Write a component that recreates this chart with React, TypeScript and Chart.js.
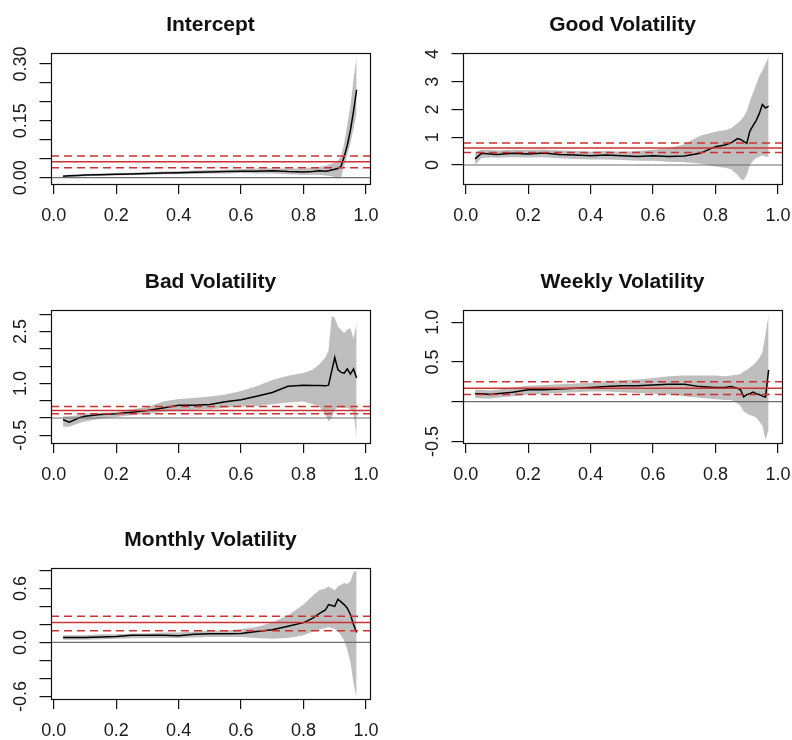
import React, { useEffect, useRef } from 'react';
import { Chart, registerables } from 'chart.js';

Chart.register(...registerables);

// ---------------- data ----------------
const taus = [0.03, 0.05, 0.08, 0.10, 0.15, 0.20, 0.25, 0.30, 0.35, 0.40, 0.45, 0.50, 0.55, 0.60, 0.65, 0.70, 0.75, 0.80, 0.83, 0.85, 0.87, 0.88, 0.89, 0.90, 0.91, 0.92, 0.93, 0.94, 0.95, 0.96, 0.97];

const xTicks = [0, 0.2, 0.4, 0.6, 0.8, 1.0];
const xTickLabels = ['0.0', '0.2', '0.4', '0.6', '0.8', '1.0'];
const xMin = -0.0087;
const xMax = 1.0128;

// Intercept
const interceptCoef = [0.004, 0.005, 0.006, 0.007, 0.008, 0.009, 0.010, 0.011, 0.012, 0.013, 0.014, 0.015, 0.016, 0.017, 0.017, 0.018, 0.016, 0.015, 0.016, 0.018, 0.017, 0.018, 0.020, 0.022, 0.024, 0.030, 0.055, 0.085, 0.125, 0.175, 0.232];
const interceptUpper = [0.007, 0.008, 0.009, 0.010, 0.011, 0.012, 0.013, 0.015, 0.016, 0.017, 0.019, 0.020, 0.021, 0.023, 0.024, 0.025, 0.024, 0.024, 0.026, 0.029, 0.031, 0.034, 0.037, 0.040, 0.045, 0.055, 0.090, 0.140, 0.190, 0.260, 0.320];
const interceptLower = [0.001, 0.002, 0.003, 0.004, 0.005, 0.006, 0.007, 0.008, 0.009, 0.009, 0.010, 0.011, 0.011, 0.012, 0.011, 0.011, 0.009, 0.008, 0.008, 0.008, 0.006, 0.005, 0.004, 0.002, -0.002, 0.000, 0.030, 0.060, 0.090, 0.130, 0.170];
const interceptOls = [0.042, 0.026, 0.057];
const interceptYTicks = [0, 0.05, 0.10, 0.15, 0.20, 0.25, 0.30];
const interceptYLabels = ['0.00', '', '', '0.15', '', '', '0.30'];

// Good Volatility
const goodCoef = [0.22, 0.42, 0.40, 0.38, 0.42, 0.40, 0.43, 0.38, 0.36, 0.33, 0.36, 0.33, 0.31, 0.33, 0.31, 0.32, 0.42, 0.66, 0.72, 0.80, 0.95, 0.92, 0.85, 0.78, 1.22, 1.42, 1.60, 1.85, 2.18, 2.05, 2.12];
const goodUpper = [0.45, 0.55, 0.55, 0.52, 0.55, 0.55, 0.56, 0.52, 0.50, 0.48, 0.50, 0.48, 0.50, 0.55, 0.60, 0.75, 1.05, 1.20, 1.25, 1.32, 1.50, 1.60, 1.75, 1.95, 2.30, 2.60, 2.90, 3.20, 3.40, 3.65, 3.90];
const goodLower = [0.00, 0.25, 0.27, 0.26, 0.28, 0.27, 0.28, 0.24, 0.22, 0.20, 0.20, 0.18, 0.15, 0.15, 0.12, 0.10, 0.05, -0.05, -0.10, -0.15, -0.35, -0.50, -0.55, -0.35, 0.00, 0.15, 0.25, 0.30, 0.35, 0.30, 0.30];
const goodOls = [0.61, 0.45, 0.79];
const goodYTicks = [0, 1, 2, 3, 4];
const goodYLabels = ['0', '1', '2', '3', '4'];

// Bad Volatility
const badCoef = [-0.05, -0.12, 0.00, 0.05, 0.10, 0.12, 0.17, 0.22, 0.29, 0.37, 0.37, 0.39, 0.47, 0.53, 0.63, 0.74, 0.92, 0.95, 0.94, 0.94, 0.93, 0.95, 1.35, 1.75, 1.40, 1.32, 1.30, 1.42, 1.27, 1.42, 1.16];
const badUpper = [0.05, 0.05, 0.08, 0.12, 0.15, 0.17, 0.25, 0.32, 0.48, 0.55, 0.58, 0.62, 0.68, 0.78, 0.92, 1.10, 1.22, 1.30, 1.40, 1.55, 1.75, 1.95, 2.95, 2.90, 2.65, 2.55, 2.45, 2.55, 2.60, 2.30, 2.75];
const badLower = [-0.25, -0.25, -0.15, -0.10, -0.02, 0.03, 0.08, 0.12, 0.18, 0.22, 0.24, 0.25, 0.30, 0.33, 0.35, 0.40, 0.45, 0.48, 0.40, 0.35, 0.10, -0.10, 0.00, 0.25, 0.30, 0.30, 0.28, 0.30, 0.25, 0.15, -0.55];
const badOls = [0.22, 0.12, 0.33];
const badYTicks = [-0.5, 0, 0.5, 1.0, 1.5, 2.0, 2.5, 3.0];
const badYLabels = ['-0.5', '', '', '1.0', '', '', '2.5', ''];

// Weekly Volatility
const weeklyCoef = [0.10, 0.10, 0.09, 0.10, 0.12, 0.15, 0.15, 0.16, 0.17, 0.18, 0.19, 0.20, 0.20, 0.21, 0.22, 0.22, 0.19, 0.18, 0.18, 0.19, 0.17, 0.15, 0.06, 0.09, 0.10, 0.12, 0.10, 0.09, 0.07, 0.06, 0.40];
const weeklyUpper = [0.15, 0.15, 0.14, 0.15, 0.18, 0.20, 0.21, 0.22, 0.23, 0.24, 0.26, 0.27, 0.28, 0.30, 0.32, 0.33, 0.33, 0.33, 0.32, 0.33, 0.34, 0.35, 0.38, 0.40, 0.43, 0.46, 0.50, 0.55, 0.62, 0.85, 1.10];
const weeklyLower = [0.05, 0.04, 0.04, 0.05, 0.07, 0.09, 0.10, 0.11, 0.12, 0.13, 0.13, 0.12, 0.11, 0.10, 0.09, 0.07, 0.05, 0.03, 0.02, 0.02, -0.02, -0.05, -0.12, -0.15, -0.17, -0.18, -0.20, -0.25, -0.30, -0.48, -0.35];
const weeklyOls = [0.17, 0.09, 0.25];
const weeklyYTicks = [-0.5, 0, 0.5, 1.0];
const weeklyYLabels = ['-0.5', '', '0.5', '1.0'];

// Monthly Volatility
const monthlyCoef = [0.055, 0.055, 0.055, 0.055, 0.06, 0.065, 0.08, 0.08, 0.08, 0.075, 0.09, 0.095, 0.095, 0.10, 0.12, 0.14, 0.18, 0.22, 0.27, 0.32, 0.36, 0.42, 0.41, 0.40, 0.48, 0.45, 0.42, 0.38, 0.31, 0.20, 0.11];
const monthlyUpper = [0.08, 0.08, 0.08, 0.08, 0.09, 0.09, 0.10, 0.10, 0.11, 0.11, 0.12, 0.13, 0.13, 0.15, 0.17, 0.22, 0.30, 0.42, 0.52, 0.58, 0.60, 0.62, 0.60, 0.58, 0.62, 0.64, 0.66, 0.65, 0.68, 0.78, 0.80];
const monthlyLower = [0.03, 0.03, 0.03, 0.03, 0.035, 0.04, 0.045, 0.05, 0.05, 0.05, 0.055, 0.06, 0.06, 0.06, 0.05, 0.04, 0.05, 0.08, 0.12, 0.14, 0.16, 0.17, 0.16, 0.15, 0.12, 0.08, 0.02, -0.08, -0.22, -0.45, -0.62];
const monthlyOls = [0.22, 0.13, 0.29];
const monthlyYTicks = [-0.6, -0.4, -0.2, 0, 0.2, 0.4, 0.6, 0.8];
const monthlyYLabels = ['-0.6', '', '', '0.0', '', '', '0.6', ''];

// ---------------- styling ----------------
const FONT = "'Liberation Sans', Arial, Helvetica, sans-serif";
const BAND = '#bebebe';
const RED = 'rgb(205, 50, 50)';
const ZERO = '#6e6e6e';
const TICK_FONT = 18;
const TITLE_FONT = 21;
const Y_TICK_LEN = 11.5;
const X_TICK_LEN = 10;
const BOX_W = 319;
const SIDE = 51;
const TITLE_BLOCK = 53;
const XAXIS_H = 56;

type PanelDef = {
  title: string;
  coef: number[];
  lower: number[];
  upper: number[];
  ols: number[];
  yTicks: number[];
  yLabels: string[];
  yMin: number;
  yMax: number;
  left: number;
  top: number;
  boxH: number;
};

const panels: PanelDef[] = [
  { title: 'Intercept', coef: interceptCoef, lower: interceptLower, upper: interceptUpper, ols: interceptOls, yTicks: interceptYTicks, yLabels: interceptYLabels, yMin: -0.0167, yMax: 0.329, left: 0, top: 0, boxH: 131 },
  { title: 'Good Volatility', coef: goodCoef, lower: goodLower, upper: goodUpper, ols: goodOls, yTicks: goodYTicks, yLabels: goodYLabels, yMin: -0.685, yMax: 4.036, left: 412, top: 0, boxH: 131 },
  { title: 'Bad Volatility', coef: badCoef, lower: badLower, upper: badUpper, ols: badOls, yTicks: badYTicks, yLabels: badYLabels, yMin: -0.723, yMax: 3.125, left: 0, top: 257, boxH: 133 },
  { title: 'Weekly Volatility', coef: weeklyCoef, lower: weeklyLower, upper: weeklyUpper, ols: weeklyOls, yTicks: weeklyYTicks, yLabels: weeklyYLabels, yMin: -0.52, yMax: 1.155, left: 412, top: 257, boxH: 133 },
  { title: 'Monthly Volatility', coef: monthlyCoef, lower: monthlyLower, upper: monthlyUpper, ols: monthlyOls, yTicks: monthlyYTicks, yLabels: monthlyYLabels, yMin: -0.629, yMax: 0.827, left: 0, top: 515, boxH: 131 },
];

const boxPlugin = {
  id: 'rbox',
  afterDraw(chart: any) {
    const { ctx, chartArea } = chart;
    const l = Math.round(chartArea.left) + 0.5;
    const t = Math.round(chartArea.top) + 0.5;
    const r = Math.round(chartArea.right) + 0.5;
    const b = Math.round(chartArea.bottom) + 0.5;
    ctx.save();
    ctx.strokeStyle = '#111';
    ctx.lineWidth = 1.2;
    ctx.strokeRect(l, t, r - l, b - t);
    ctx.restore();
  },
};

function measure(text: string, px: number): number {
  const c = document.createElement('canvas').getContext('2d');
  if (!c) return text.length * px * 0.55;
  c.font = `${px}px ${FONT}`;
  return c.measureText(text).width;
}

function Panel({ def }: { def: PanelDef }) {
  const ref = useRef<HTMLCanvasElement | null>(null);
  const width = SIDE + BOX_W + SIDE;
  const height = TITLE_BLOCK + def.boxH + XAXIS_H;

  useEffect(() => {
    const canvas = ref.current;
    if (!canvas) return;
    const hline = (v: number) => [{ x: xMin, y: v }, { x: xMax, y: v }];
    const series = (arr: number[]) => taus.map((t, i) => ({ x: t, y: arr[i] }));
    const widest = Math.max(...def.yLabels.map((s) => measure(s, TICK_FONT)));
    const yPad = 29.5 - Y_TICK_LEN - widest / 2;
    const titleLine = TITLE_FONT * 1.2;
    const titleTop = 25 - titleLine / 2;

    const chart = new Chart(canvas, {
      type: 'line',
      data: {
        datasets: [
          { label: 'ci-hi', data: hline(def.ols[2]), borderColor: RED, borderWidth: 1.5, borderDash: [8, 5], pointRadius: 0, fill: false },
          { label: 'ci-lo', data: hline(def.ols[1]), borderColor: RED, borderWidth: 1.5, borderDash: [8, 5], pointRadius: 0, fill: false },
          { label: 'ols', data: hline(def.ols[0]), borderColor: RED, borderWidth: 1.5, pointRadius: 0, fill: false },
          { label: 'zero', data: hline(0), borderColor: ZERO, borderWidth: 1.2, pointRadius: 0, fill: false },
          { label: 'coef', data: series(def.coef), borderColor: '#000', borderWidth: 1.5, pointRadius: 0, fill: false },
          { label: 'upper', data: series(def.upper), borderColor: 'rgba(0,0,0,0)', borderWidth: 0, backgroundColor: BAND, pointRadius: 0, fill: '+1' },
          { label: 'lower', data: series(def.lower), borderColor: 'rgba(0,0,0,0)', borderWidth: 0, pointRadius: 0, fill: false },
        ],
      },
      options: {
        animation: false,
        responsive: false,
        events: [],
        layout: { padding: { left: 0, right: SIDE, top: 0, bottom: 0 } },
        plugins: {
          legend: { display: false },
          tooltip: { enabled: false },
          title: {
            display: true,
            fullSize: false,
            text: def.title,
            color: '#111',
            font: { family: FONT, size: TITLE_FONT, weight: 'bold', lineHeight: 1.2 },
            padding: { top: titleTop, bottom: TITLE_BLOCK - titleTop - titleLine },
          },
        },
        scales: {
          x: {
            type: 'linear',
            min: xMin,
            max: xMax,
            bounds: 'data',
            afterBuildTicks: (s: any) => {
              s.ticks = xTicks.map((v) => ({ value: v }));
            },
            afterFit: (s: any) => {
              s.height = XAXIS_H;
            },
            ticks: {
              autoSkip: false,
              maxRotation: 0,
              minRotation: 0,
              padding: 11,
              color: '#1a1a1a',
              font: { family: FONT, size: TICK_FONT },
              callback: (v: any) => {
                const i = xTicks.findIndex((t) => Math.abs(t - Number(v)) < 1e-9);
                return i >= 0 ? xTickLabels[i] : '';
              },
            },
            grid: { drawOnChartArea: false, drawTicks: true, tickLength: X_TICK_LEN, color: '#111', lineWidth: 1.2 },
            border: { display: false },
          },
          y: {
            type: 'linear',
            min: def.yMin,
            max: def.yMax,
            bounds: 'data',
            afterBuildTicks: (s: any) => {
              s.ticks = def.yTicks.map((v) => ({ value: v }));
            },
            afterFit: (s: any) => {
              s.width = SIDE;
            },
            ticks: {
              autoSkip: false,
              minRotation: 90,
              maxRotation: 90,
              crossAlign: 'center',
              padding: yPad,
              color: '#1a1a1a',
              font: { family: FONT, size: TICK_FONT },
              callback: (v: any) => {
                const i = def.yTicks.findIndex((t) => Math.abs(t - Number(v)) < 1e-9);
                return i >= 0 ? def.yLabels[i] : '';
              },
            },
            grid: { drawOnChartArea: false, drawTicks: true, tickLength: Y_TICK_LEN, color: '#111', lineWidth: 1.2 },
            border: { display: false },
          },
        },
      } as any,
      plugins: [boxPlugin],
    });
    return () => chart.destroy();
  }, [def]);

  return (
    <canvas
      ref={ref}
      width={width}
      height={height}
      style={{ position: 'absolute', left: def.left, top: def.top, width, height }}
    />
  );
}

export default function App() {
  return (
    <div style={{ position: 'absolute', left: 0, top: 0, width: 792, height: 740, overflow: 'hidden', background: '#fff' }}>
      {panels.map((p) => (
        <Panel key={p.title} def={p} />
      ))}
    </div>
  );
}
